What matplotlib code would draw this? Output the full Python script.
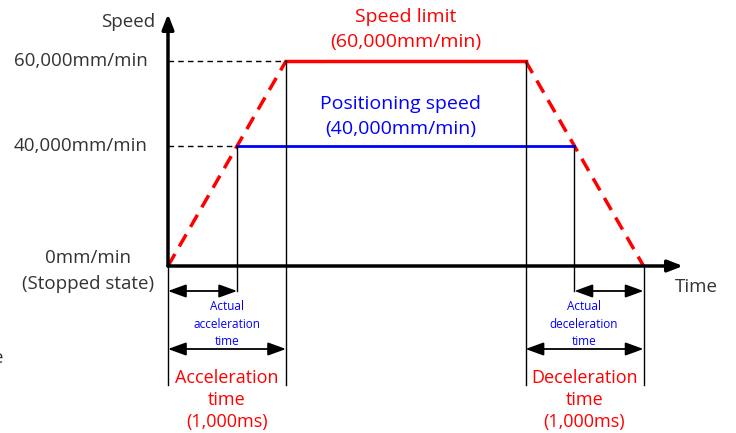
import numpy as np
import matplotlib.pyplot as plt

# speeds in mm/min, times in ms
speed_limit = 60000
positioning_speed = 40000
accel_time = 1000
decel_time = 1000
decel_start = 3030
stop_time = decel_start + decel_time
speed_ticks = [60000, 40000]
speed_tick_labels = ['60,000mm/min', '40,000mm/min']

plt.rcParams['font.family'] = ['Open Sans', 'DejaVu Sans']

# schematic (non proportional) speed axis, as drawn in the reference
def fwd(v):
    v = np.asarray(v, dtype=float)
    return np.where(v < 40000, v * 0.003, 120 + (v - 40000) * 0.00425)


def inv(g):
    g = np.asarray(g, dtype=float)
    return np.where(g < 120, g / 0.003, 40000 + (g - 120) / 0.00425)


fig = plt.figure(figsize=(7.36, 4.33), dpi=100)
ax = fig.add_axes([0, 0, 1, 1])
ax.set_yscale('function', functions=(fwd, inv))
ax.set_xlim(-168 / 0.118, (736 - 168) / 0.118)
ax.set_ylim(float(inv(-167)), float(inv(266)))
ax.axis('off')

px = 1 / 0.118  # ms per pixel


def ypx(p):
    # pixel offset from the time axis (positive = down) -> speed value
    return float(inv(-p))


# actual times where the ramp meets the positioning speed
ramp_frac = float(fwd(positioning_speed) / fwd(speed_limit))
t_act_acc = accel_time * ramp_frac
t_act_dec = stop_time - decel_time * ramp_frac

# speed limit profile
ax.plot([0, accel_time], [0, speed_limit], color='red', lw=2.5, ls=(0, (4, 2.5)))
ax.plot([accel_time, decel_start], [speed_limit, speed_limit], color='red', lw=2.5)
ax.plot([decel_start, stop_time], [speed_limit, 0], color='red', lw=2.5, ls=(0, (4, 2.5)))
# positioning speed
ax.plot([t_act_acc, t_act_dec], [positioning_speed, positioning_speed], color='blue', lw=2)

# dashed guides to the speed axis
ax.plot([0, accel_time], [speed_limit, speed_limit], color='black', lw=1, ls=(0, (4, 3)))
ax.plot([0, t_act_acc], [positioning_speed, positioning_speed], color='black', lw=1, ls=(0, (4, 3)))

# vertical markers
ax.plot([t_act_acc, t_act_acc], [positioning_speed, ypx(25)], color='black', lw=1)
ax.plot([accel_time, accel_time], [speed_limit, ypx(119)], color='black', lw=1)
ax.plot([0, 0], [0, ypx(119)], color='black', lw=1)
ax.plot([decel_start, decel_start], [speed_limit, ypx(119)], color='black', lw=1)
ax.plot([t_act_dec, t_act_dec], [positioning_speed, ypx(25)], color='black', lw=1)
ax.plot([stop_time, stop_time], [0, ypx(119)], color='black', lw=1)

# axes with arrows
ax.annotate('', xy=(0, ypx(-252)), xytext=(0, 0),
            arrowprops=dict(arrowstyle='-|>,head_length=0.9,head_width=0.35',
                            color='black', lw=2.5, shrinkA=0, shrinkB=0))
ax.annotate('', xy=(515 * px, 0), xytext=(0, 0),
            arrowprops=dict(arrowstyle='-|>,head_length=0.9,head_width=0.35',
                            color='black', lw=2.5, shrinkA=0, shrinkB=0))

# time span arrows
arrow = dict(arrowstyle='<|-|>,head_length=1.1,head_width=0.4', color='black',
             lw=1.3, shrinkA=0, shrinkB=0)
ax.annotate('', xy=(0, ypx(25)), xytext=(t_act_acc, ypx(25)), arrowprops=arrow)
ax.annotate('', xy=(0, ypx(83)), xytext=(accel_time, ypx(83)), arrowprops=arrow)
ax.annotate('', xy=(t_act_dec, ypx(25)), xytext=(stop_time, ypx(25)), arrowprops=arrow)
ax.annotate('', xy=(decel_start, ypx(83)), xytext=(stop_time, ypx(83)), arrowprops=arrow)

# labels
tk = dict(fontsize=13.5, color='#333333', va='center')
ax.text(-13 * px, ypx(-244), 'Speed', ha='right', **tk)
for v, lab in zip(speed_ticks, speed_tick_labels):
    ax.text(-20 * px, v, lab, ha='right', **tk)
ax.text(-80 * px, ypx(-8), '0mm/min', ha='center', **tk)
ax.text(-80 * px, ypx(18), '(Stopped state)', ha='center', **tk)
ax.text(507 * px, ypx(21), 'Time', ha='left', **tk)
ax.text(-175 * px, ypx(92), 'e', ha='left', **tk)

mid_top = (accel_time + decel_start) / 2
ax.text(mid_top, ypx(-249), 'Speed limit', ha='center', va='center', fontsize=14, color='red')
ax.text(mid_top, ypx(-224), '(60,000mm/min)', ha='center', va='center', fontsize=14, color='red')
ax.text(mid_top - 5 * px, ypx(-162), 'Positioning speed', ha='center', va='center', fontsize=14, color='blue')
ax.text(mid_top - 5 * px, ypx(-137), '(40,000mm/min)', ha='center', va='center', fontsize=14, color='blue')

small = dict(ha='center', va='center', fontsize=8.5, color='blue', linespacing=1.45)
ax.text(accel_time / 2, ypx(58), 'Actual\nacceleration\ntime', **small)
ax.text((t_act_dec + stop_time) / 2 - 25 * px, ypx(58), 'Actual\ndeceleration\ntime', **small)
big = dict(ha='center', va='center', fontsize=13, color='red', linespacing=1.3)
ax.text(accel_time / 2, ypx(134), 'Acceleration\ntime\n(1,000ms)', **big)
ax.text((decel_start + stop_time) / 2, ypx(134), 'Deceleration\ntime\n(1,000ms)', **big)

fig.savefig('out.png', dpi=100)
